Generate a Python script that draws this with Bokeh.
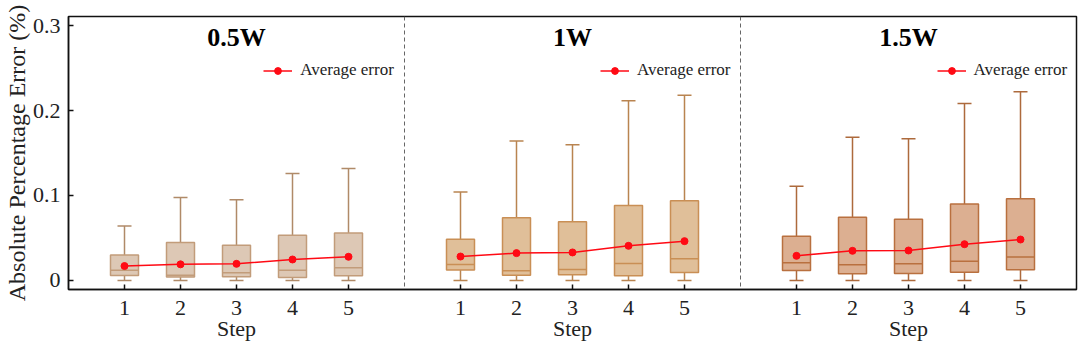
from bokeh.plotting import figure
from bokeh.models import (ColumnDataSource, FixedTicker, Span, Label, Legend,
                          LegendItem, Range1d)
from bokeh.embed import file_html
from bokeh.resources import INLINE

# ---------------- data ----------------
steps = [1, 2, 3, 4, 5]
powers = ["0.5W", "1W", "1.5W"]
x_title = "Step"
y_title = "Absolute Percentage Error (%)"
legend_label = "Average error"
y_ticks = [0, 0.1, 0.2, 0.3]
y_tick_labels = ["0", "0.1", "0.2", "0.3"]

low_05 = [0, 0, 0, 0, 0]
q1_05 = [0.006, 0.004, 0.0043, 0.0035, 0.0055]
med_05 = [0.012, 0.0063, 0.009, 0.012, 0.015]
q3_05 = [0.030, 0.0447, 0.0416, 0.0533, 0.056]
high_05 = [0.064, 0.0976, 0.095, 0.126, 0.1318]
mean_05 = [0.017, 0.019, 0.0196, 0.0247, 0.0279]

low_1 = [0, 0, 0, 0, 0]
q1_1 = [0.0122, 0.0063, 0.0067, 0.0055, 0.0094]
med_1 = [0.0188, 0.0114, 0.0129, 0.020, 0.0255]
q3_1 = [0.0486, 0.0737, 0.069, 0.0882, 0.0937]
high_1 = [0.104, 0.164, 0.1596, 0.2114, 0.218]
mean_1 = [0.0282, 0.0322, 0.033, 0.0408, 0.0463]

low_15 = [0, 0, 0, 0, 0]
q1_15 = [0.0118, 0.0078, 0.0082, 0.0098, 0.0125]
med_15 = [0.0208, 0.0184, 0.0196, 0.0227, 0.0275]
q3_15 = [0.052, 0.0745, 0.0722, 0.090, 0.0961]
high_15 = [0.111, 0.1686, 0.1667, 0.2082, 0.222]
mean_15 = [0.029, 0.0349, 0.0353, 0.0427, 0.0482]

groups = [
    (low_05, q1_05, med_05, q3_05, high_05, mean_05),
    (low_1, q1_1, med_1, q3_1, high_1, mean_1),
    (low_15, q1_15, med_15, q3_15, high_15, mean_15),
]

# ---------------- style ----------------
FONT = "Liberation Serif"
fills = ["#ddc8b5", "#e0bf99", "#dcaf91"]
edges = ["#c29c7a", "#c98f55", "#b9703f"]
whisk = ["#b08a68", "#b98450", "#ad6a3c"]
MEAN_COLOR = "#ff0a14"

W, H = 1080, 344
ML, MR, MT, MB = 66, 4, 16, 55
X0, X1 = 0, 18
Y0, Y1 = -0.0106, 0.3106
PANEL = 6
BOX_W = 0.5
CAP_W = 0.25
frame_w = W - ML - MR
frame_h = H - MT - MB
PAGE_TOP = MT
PAGE_BOTTOM = PAGE_TOP + frame_h


def y_at(page_y):
    return Y0 + (PAGE_BOTTOM - page_y) / frame_h * (Y1 - Y0)


p = figure(width=W, height=H, output_backend="svg", toolbar_location=None,
           x_range=Range1d(X0, X1), y_range=Range1d(Y0, Y1),
           min_border_left=ML, min_border_right=MR,
           min_border_top=MT, min_border_bottom=MB,
           background_fill_color="white", border_fill_color="white")
p.xgrid.visible = False
p.ygrid.visible = False
p.outline_line_color = "#111111"
p.outline_line_width = 1.5

# x axis: step numbers, with the "Step" title under the middle step of each panel
xt = []
xo = {}
mid = steps[len(steps) // 2]
for gi in range(len(powers)):
    for s in steps:
        xt.append(gi * PANEL + s)
        xo[gi * PANEL + s] = str(s) + ("\n" + x_title if s == mid else "")
p.xaxis.ticker = FixedTicker(ticks=xt)
p.xaxis.major_label_overrides = xo
p.xaxis.minor_tick_line_color = None
p.xaxis.major_tick_in = 5
p.xaxis.major_tick_out = 0
p.xaxis.major_tick_line_width = 1.5
p.xaxis.axis_line_width = 1.5
p.xaxis.axis_line_color = "#111111"
p.xaxis.major_tick_line_color = "#111111"
p.xaxis.major_label_text_font = FONT
p.xaxis.major_label_text_font_size = "22px"
p.xaxis.major_label_text_line_height = 0.85
p.xaxis.major_label_text_color = "#222222"
p.xaxis.major_label_standoff = 5

# y axis
p.yaxis.ticker = FixedTicker(ticks=y_ticks)
p.yaxis.major_label_overrides = {t: l for t, l in zip(y_ticks, y_tick_labels)}
p.yaxis.minor_tick_line_color = None
p.yaxis.major_tick_in = 5
p.yaxis.major_tick_out = 0
p.yaxis.major_tick_line_width = 1.5
p.yaxis.axis_line_width = 1.5
p.yaxis.axis_line_color = "#111111"
p.yaxis.major_tick_line_color = "#111111"
p.yaxis.major_label_text_font = FONT
p.yaxis.major_label_text_font_size = "22px"
p.yaxis.major_label_text_color = "#222222"
p.yaxis.major_label_standoff = 8
p.yaxis.axis_label = y_title
p.yaxis.axis_label_text_font = FONT
p.yaxis.axis_label_text_font_size = "24px"
p.yaxis.axis_label_text_font_style = "normal"
p.yaxis.axis_label_text_color = "#222222"
p.yaxis.axis_label_standoff = 0

# panel dividers
for gi in range(1, len(powers)):
    p.add_layout(Span(location=gi * PANEL, dimension="height",
                      line_color="#666666", line_dash="4 3", line_width=1))

for gi, (lo, q1, med, q3, hi, mn) in enumerate(groups):
    xs = [gi * PANEL + s for s in steps]
    src = ColumnDataSource(dict(
        x=xs, lo=lo, q1=q1, med=med, q3=q3, hi=hi, mean=mn,
        xl=[x - CAP_W / 2 for x in xs], xr=[x + CAP_W / 2 for x in xs],
        bl=[x - BOX_W / 2 for x in xs], br=[x + BOX_W / 2 for x in xs],
    ))
    # whiskers
    p.segment("x", "q3", "x", "hi", source=src, line_color=whisk[gi], line_width=1.5)
    p.segment("x", "lo", "x", "q1", source=src, line_color=whisk[gi], line_width=1.5)
    p.segment("xl", "hi", "xr", "hi", source=src, line_color=whisk[gi], line_width=1.5)
    p.segment("xl", "lo", "xr", "lo", source=src, line_color=whisk[gi], line_width=1.5)
    # boxes
    p.vbar(x="x", width=BOX_W, top="q3", bottom="q1", source=src,
           fill_color=fills[gi], line_color=edges[gi], line_width=1.5)
    p.segment("bl", "med", "br", "med", source=src, line_color=edges[gi], line_width=1.5)
    # mean
    lr = p.line("x", "mean", source=src, line_color=MEAN_COLOR, line_width=1.5)
    cr = p.scatter("x", "mean", source=src, size=7, fill_color=MEAN_COLOR,
                   line_color=MEAN_COLOR)
    cx = gi * PANEL + PANEL / 2

    # legend
    leg = Legend(items=[LegendItem(label=legend_label, renderers=[lr, cr])],
                 location=((gi * PANEL + 3.48) * frame_w / (X1 - X0), 209),
                 padding=0, margin=0, spacing=0,
                 glyph_width=29, glyph_height=17, label_height=17,
                 label_standoff=8, label_text_font=FONT,
                 label_text_font_size="17px", label_text_color="#222222",
                 background_fill_alpha=0, border_line_alpha=0)
    p.add_layout(leg)

    # panel title
    p.add_layout(Label(x=cx, y=y_at(37), text=powers[gi], text_align="center",
                       text_baseline="middle", text_font=FONT,
                       text_font_size="26px", text_font_style="bold",
                       text_color="#000000"))

open("out.html", "w").write(file_html(p, INLINE))
